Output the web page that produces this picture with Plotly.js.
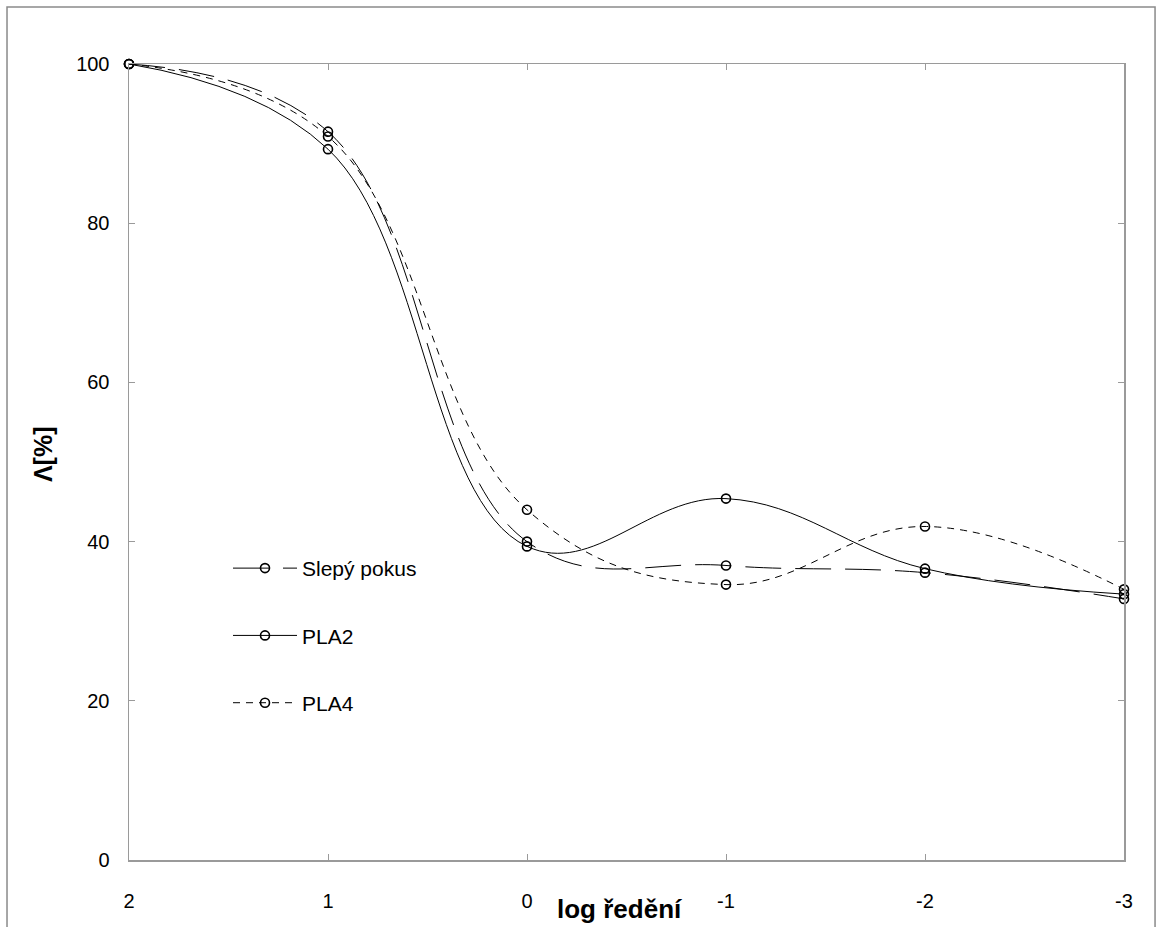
<!DOCTYPE html>
<html>
<head>
<meta charset="utf-8">
<script src="https://cdn.plot.ly/plotly-3.0.1.min.js"></script>
<style>
html,body{margin:0;padding:0;background:#fff;}
#chart{width:1158px;height:927px;}
</style>
</head>
<body>
<div id="chart"></div>
<script>
// Data
var logDilution = [2, 1, 0, -1, -2, -3];
var slepyPokus = [100, 91.5, 40.0, 37.0, 36.1, 32.8];
var pla2 = [100, 89.3, 39.4, 45.4, 36.6, 33.4];
var pla4 = [100, 90.9, 44.0, 34.6, 41.9, 34.0];
var seriesNames = ["Slepý pokus", "PLA2", "PLA4"];
var xTickVals = [2, 1, 0, -1, -2, -3];
var yTickVals = [0, 20, 40, 60, 80, 100];
var xTitle = "log ředění";
var yTitle = "Λ[%]";

var FONT = "Liberation Sans, Arial, sans-serif";
var AXC = "#9a9a9a";

function mk(name, y, dash, grp) {
  return {
    x: logDilution, y: y, name: name, type: "scatter", mode: "lines+markers",
    legendgroup: grp,
    line: {color: "#000", width: 1, dash: dash, shape: "spline", smoothing: 1.15},
    marker: {symbol: "circle-open", size: 9, color: "#000", line: {color: "#000", width: 1.6}},
    cliponaxis: false
  };
}

var traces = [
  mk(seriesNames[0], slepyPokus, "36px,14px", "g1"),
  mk(seriesNames[1], pla2, "solid", "g2"),
  mk(seriesNames[2], pla4, "7px,6px", "g3")
];

var layout = {
  width: 1158, height: 927,
  margin: {l: 129, r: 34, t: 64, b: 67},
  paper_bgcolor: "#fff", plot_bgcolor: "#fff",
  font: {family: FONT, size: 20, color: "#000"},
  showlegend: true,
  legend: {
    x: 0.0995, y: 0.392, xanchor: "left", yanchor: "top",
    bgcolor: "rgba(0,0,0,0)", borderwidth: 0,
    font: {family: FONT, size: 21, color: "#000"},
    tracegroupgap: 37, itemwidth: 64
  },
  xaxis: {
    range: [2, -3], tickvals: xTickVals, ticktext: xTickVals.map(String),
    showgrid: false, zeroline: false,
    showline: true, linecolor: AXC, linewidth: 1.5, mirror: "ticks",
    ticks: "inside", ticklen: 6, tickcolor: AXC, tickwidth: 1,
    ticklabelstandoff: 22,
    tickfont: {family: FONT, size: 20, color: "#000"}
  },
  yaxis: {
    range: [0, 100], tickvals: yTickVals,
    showgrid: false, zeroline: false,
    showline: true, linecolor: AXC, linewidth: 1.5, mirror: "ticks",
    ticks: "inside", ticklen: 6, tickcolor: AXC, tickwidth: 1,
    ticklabelstandoff: 14,
    tickfont: {family: FONT, size: 20, color: "#000"}
  },
  annotations: [
    {text: "<b>" + xTitle + "</b>", xref: "paper", yref: "paper",
     x: 0.4925, y: -0.061, xanchor: "center", yanchor: "middle", showarrow: false,
     font: {family: FONT, size: 26, color: "#000"}},
    {text: "<b>" + yTitle + "</b>", xref: "paper", yref: "paper",
     x: -0.0864, y: 0.51, xanchor: "center", yanchor: "middle", showarrow: false,
     textangle: -90,
     font: {family: FONT, size: 25, color: "#000"}}
  ],
  shapes: [
    {type: "rect", xref: "paper", yref: "paper",
     x0: -0.1226, x1: 1.0312, y0: -0.2, y1: 1.0716,
     line: {color: "#8a8a8a", width: 1.5}, fillcolor: "rgba(0,0,0,0)", layer: "below"}
  ]
};

Plotly.newPlot("chart", traces, layout, {displayModeBar: false, staticPlot: true});
</script>
</body>
</html>
